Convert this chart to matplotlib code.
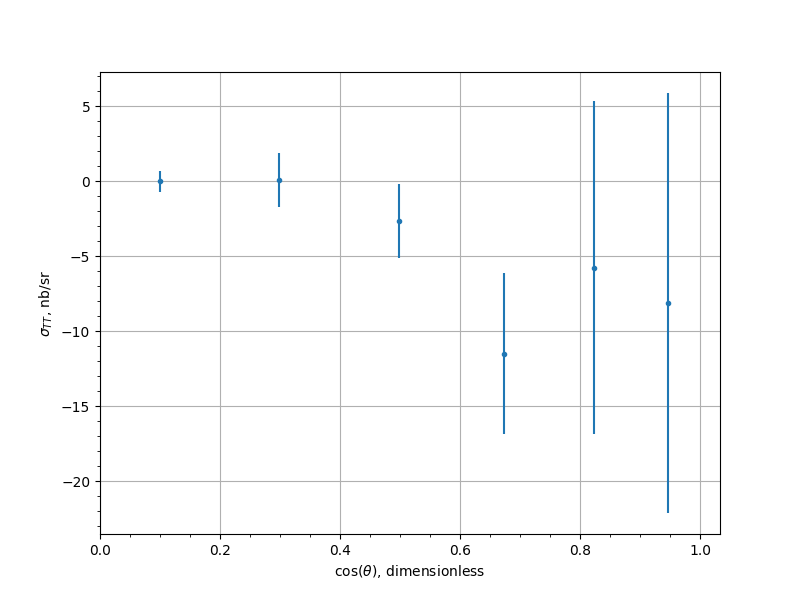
import matplotlib
matplotlib.use("Agg")
import matplotlib.pyplot as plt

# angular bins and cross section
cos_theta = [0.1, 0.298, 0.498, 0.673, 0.823, 0.947]
sigma_tt = [0.0, 0.07, -2.67, -11.5, -5.77, -8.13]
sigma_err = [0.7, 1.77, 2.47, 5.37, 11.1, 14.0]

fig, ax = plt.subplots(figsize=(8, 6), dpi=100)
ax.errorbar(cos_theta, sigma_tt, yerr=sigma_err, fmt='.')
ax.set_xlim(0, 1.0333)
ax.minorticks_on()
ax.grid(True, which='major')
ax.set_xlabel(r'$\cos(\theta)$, dimensionless')
ax.set_ylabel(r'$\sigma_{TT}$, nb/sr')

fig.savefig('out.png')
